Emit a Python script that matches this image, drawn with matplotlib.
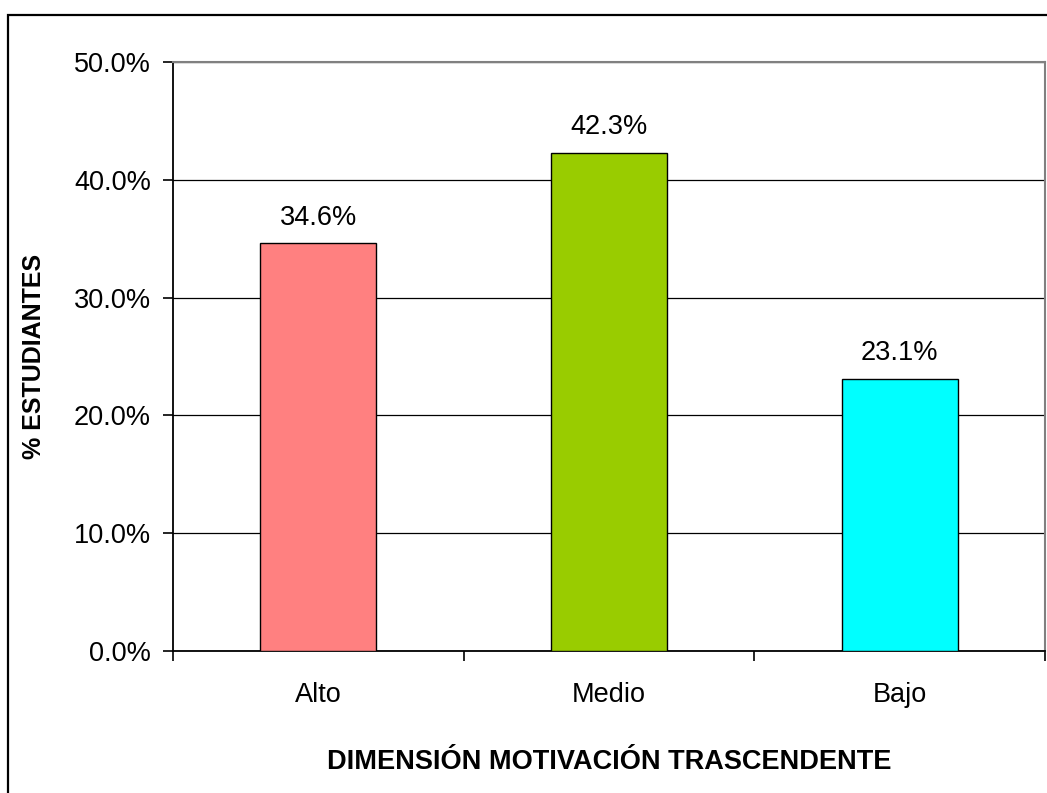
import matplotlib
matplotlib.use('Agg')
import matplotlib.pyplot as plt
from matplotlib.patches import Rectangle
from matplotlib.ticker import PercentFormatter

categories = ['Alto', 'Medio', 'Bajo']
values = [0.346, 0.423, 0.231]
colors = ['#FF8080', '#99CC00', '#00FFFF']
yticks = [0.0, 0.1, 0.2, 0.3, 0.4, 0.5]

plt.rcParams['font.family'] = ['Liberation Sans', 'DejaVu Sans']

fig = plt.figure(figsize=(10.47, 7.93), dpi=100)
fig.patch.set_facecolor('white')

# outer chart border (runs off right/bottom edges)
fig.patches.append(Rectangle((8 / 1047, -0.05), 1.1, (793 - 15) / 793 + 0.05,
                             transform=fig.transFigure, fill=False,
                             edgecolor='black', linewidth=1.6))

ax = fig.add_axes([173 / 1047, 142 / 793, 872 / 1047, 589 / 793])

x = list(range(len(categories)))
ax.bar(x, values, width=0.4, color=colors, edgecolor='black', linewidth=1.0, zorder=3)

for xi, v in zip(x, values):
    ax.annotate(f'{v * 100:.1f}%', (xi, v), xytext=(0, 9), textcoords='offset points',
                ha='center', va='bottom', fontsize=19.5)

ax.set_xlim(-0.5, 2.5)
ax.set_ylim(0, 0.5)
ax.set_yticks(yticks)
ax.yaxis.set_major_formatter(PercentFormatter(1.0, decimals=1))
ax.yaxis.grid(True, color='black', linewidth=0.9, zorder=0)
ax.set_axisbelow(True)

ax.set_xticks([-0.5, 0.5, 1.5, 2.5])
ax.set_xticklabels([])
ax.set_xticks(x, minor=True)
ax.set_xticklabels(categories, minor=True)
ax.tick_params(axis='x', which='major', direction='out', length=7.5, width=1.2)
ax.tick_params(axis='x', which='minor', length=0, labelsize=19.5, pad=22)
ax.tick_params(axis='y', direction='out', length=7, width=1.2, labelsize=19.5, pad=9)

for s in ['left', 'bottom']:
    ax.spines[s].set_color('black')
    ax.spines[s].set_linewidth(1.3)
for s in ['top', 'right']:
    ax.spines[s].set_color('#808080')
    ax.spines[s].set_linewidth(1.5)

ax.set_xlabel('DIMENSIÓN MOTIVACIÓN TRASCENDENTE', fontsize=19.5, fontweight='bold', labelpad=30)
ax.set_ylabel('% ESTUDIANTES', fontsize=18, fontweight='bold', labelpad=20)

fig.savefig('out.png', dpi=100)
